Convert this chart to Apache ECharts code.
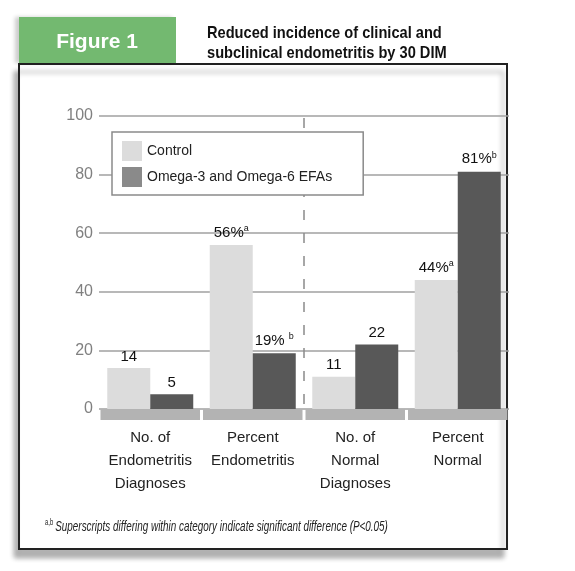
<!DOCTYPE html>
<html>
<head>
<meta charset="utf-8">
<script src="https://cdn.jsdelivr.net/npm/echarts@6/dist/echarts.min.js"></script>
<style>
  html, body { margin: 0; padding: 0; background: #fff; }
  #chart { width: 575px; height: 571px; }
</style>
</head>
<body>
<div id="chart"></div>
<script>
// data
const categories = ['No. of\nEndometritis\nDiagnoses', 'Percent\nEndometritis', 'No. of\nNormal\nDiagnoses', 'Percent\nNormal'];
const controlValues = [14, 56, 11, 44];
const omegaValues = [5, 19, 22, 81];
const controlLabels = ['14', '56%{sup|a}', '11', '44%{sup|a}'];
const omegaLabels = ['5', '19% {sup|b}', '22', '81%{sup|b}'];
const seriesNames = ['Control', 'Omega-3 and Omega-6 EFAs'];
const yMin = 0, yMax = 100, yStep = 20;

const sans = '"Liberation Sans", Arial, sans-serif';

const chart = echarts.init(document.getElementById('chart'));

const labelStyle = {
  show: true,
  position: 'top',
  distance: 4,
  color: '#111',
  fontFamily: sans,
  fontSize: 15,
  rich: {
    sup: { fontSize: 9, color: '#111', fontFamily: sans, padding: [0, 0, 8, 0] }
  }
};

const option = {
  animation: false,
  backgroundColor: '#fff',
  graphic: [
    // framed panel with shadow
    {
      type: 'rect', z: -10,
      shape: { x: 19, y: 64, width: 488, height: 485 },
      style: { fill: '#fff', stroke: '#222', lineWidth: 2,
        shadowBlur: 5, shadowColor: 'rgba(0,0,0,0.3)', shadowOffsetX: -4, shadowOffsetY: 8 }
    },
    {
      type: 'rect', z: -9,
      shape: { x: 19, y: 17, width: 157, height: 46 },
      style: { fill: '#73b970', shadowBlur: 4, shadowColor: 'rgba(0,0,0,0.2)', shadowOffsetX: -4, shadowOffsetY: 0 }
    },
    {
      type: 'text', z: 10,
      style: { x: 97, y: 42, text: 'Figure 1', fill: '#fff', fontFamily: sans,
        fontWeight: 'bold', fontSize: 21, align: 'center', verticalAlign: 'middle' }
    },
    {
      type: 'text', z: 10, x: 207, y: 23, scaleX: 0.86,
      style: { x: 0, y: 0, text: 'Reduced incidence of clinical and\nsubclinical endometritis by 30 DIM',
        fill: '#111', fontFamily: sans, fontWeight: 'bold', fontSize: 17, lineHeight: 20 }
    },
    {
      type: 'text', z: 10, x: 45, y: 518, scaleX: 0.66,
      style: { x: 0, y: 0, text: '{s|a,b}{t|Superscripts differing within category indicate significant difference (P<0.05)}',
        rich: {
          s: { fontFamily: sans, fontSize: 9, fill: '#222', padding: [0, 3, 8, 0] },
          t: { fontFamily: sans, fontStyle: 'italic', fontSize: 15, fill: '#222' }
        } }
    }
  ],
  legend: {
    data: [
      { name: seriesNames[0], itemStyle: { color: '#dcdcdc' } },
      { name: seriesNames[1], itemStyle: { color: '#8a8a8a' } }
    ],
    orient: 'vertical',
    left: 112, top: 132,
    itemWidth: 20, itemHeight: 20, itemGap: 6,
    padding: [9, 31, 8, 10],
    backgroundColor: '#fff',
    borderColor: '#8a8a8a', borderWidth: 1.5,
    icon: 'rect',
    textStyle: { fontFamily: sans, fontSize: 14, color: '#222' },
    selectedMode: false
  },
  grid: { left: 99, right: 66, top: 116, bottom: 162 },
  xAxis: {
    type: 'category',
    data: categories,
    axisLine: { show: false },
    axisTick: { show: false },
    axisLabel: { margin: 17, color: '#222', fontFamily: sans, fontSize: 15, lineHeight: 23, interval: 0 }
  },
  yAxis: {
    type: 'value',
    min: yMin, max: yMax, interval: yStep,
    axisLine: { show: false },
    axisTick: { show: false },
    axisLabel: { margin: 6, color: '#808080', fontFamily: sans, fontSize: 16 },
    splitLine: { lineStyle: { color: '#a0a0a0', width: 1.5 } }
  },
  series: [
    {
      name: seriesNames[0], type: 'bar', data: controlValues,
      barWidth: 43, barGap: '0%',
      itemStyle: { color: '#dcdcdc' },
      label: Object.assign({}, labelStyle, { formatter: (p) => controlLabels[p.dataIndex] })
    },
    {
      name: seriesNames[1], type: 'bar', data: omegaValues,
      barWidth: 43,
      itemStyle: { color: '#585858' },
      label: Object.assign({}, labelStyle, { formatter: (p) => omegaLabels[p.dataIndex] })
    },
    {
      // grey base band under each category, dashed divider before the third group
      type: 'custom', silent: true, z: 3,
      data: categories.map((c, i) => [i, 0]),
      renderItem: (params, api) => {
        const p = api.coord([api.value(0), 0]);
        const top = api.coord([api.value(0), yMax]);
        const w = api.size([1, 0])[0];
        const children = [{
          type: 'rect',
          shape: { x: p[0] - w / 2 + 1.5, y: p[1], width: w - 3, height: 11 },
          style: { fill: '#b3b3b3' }
        }];
        if (params.dataIndex === 2) {
          const x = Math.round(p[0] - w / 2);
          children.push({
            type: 'line',
            shape: { x1: x, y1: top[1] + 2, x2: x, y2: p[1] - 4 },
            style: { stroke: '#8a8a8a', lineWidth: 1.5, lineDash: [10, 13] }
          });
        }
        return { type: 'group', children };
      }
    }
  ]
};

chart.setOption(option);
</script>
</body>
</html>
